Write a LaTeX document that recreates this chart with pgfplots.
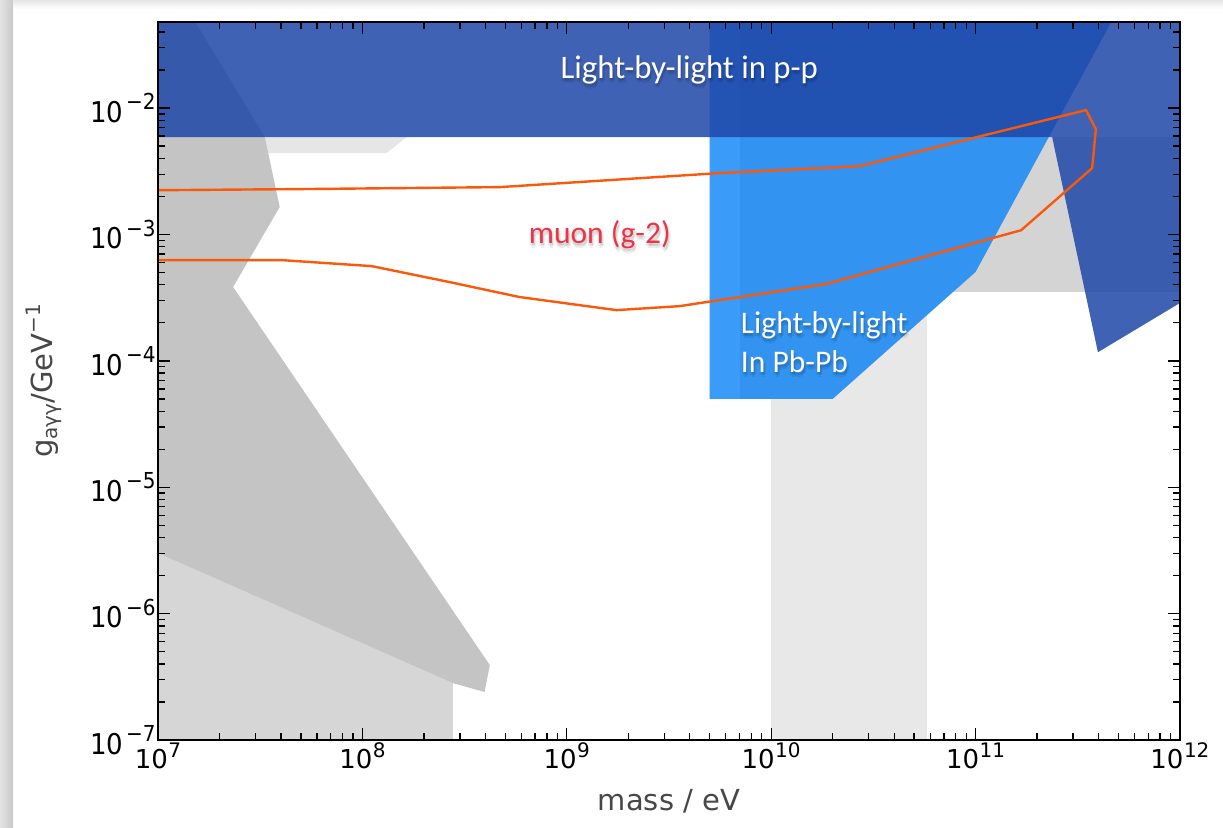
\documentclass[border=0pt]{standalone}
\usepackage{pgfplots}
\pgfplotsset{compat=1.18}
\usepackage{fontspec}
\setmainfont{DejaVu Sans}
\newfontfamily\calfont{Carlito}

\definecolor{ppblue}{RGB}{31,71,168}
\definecolor{pbblue}{RGB}{51,147,240}
\definecolor{pbblue2}{RGB}{58,156,248}
\definecolor{gmed}{RGB}{196,196,196}
\definecolor{glow}{RGB}{214,214,214}
\definecolor{gstrip}{RGB}{230,230,230}
\definecolor{gband}{RGB}{232,232,232}
\definecolor{gright}{RGB}{212,212,212}
\definecolor{muon}{RGB}{250,88,10}
\definecolor{muontext}{RGB}{240,50,70}

\newcommand{\expo}[1]{\pgfmathtruncatemacro{\ee}{round(#1)}\ifnum\ee<0 \kern2bp−\number\numexpr-\ee\relax\else\ee\fi}
\newcommand{\tlab}[1]{{\fontsize{26bp}{26bp}\selectfont 10\kern0.5bp\raisebox{11.5bp}{\fontsize{20bp}{20bp}\selectfont\expo{#1}}}}

\tikzset{lbl/.style={font=\calfont\fontsize{31.5bp}{36bp}\selectfont},
  sh/.style={lbl, text=black, opacity=0.07}}
\newcommand{\shtext}[5][31.5bp]{% size, pos, anchor, color, text
  \node[sh, font=\calfont\fontsize{#1}{36bp}\selectfont, anchor=#3, xshift=1bp, yshift=-2bp] at (#2) {#5};
  \node[sh, font=\calfont\fontsize{#1}{36bp}\selectfont, anchor=#3, xshift=2.5bp, yshift=-3.5bp] at (#2) {#5};
  \node[sh, font=\calfont\fontsize{#1}{36bp}\selectfont, anchor=#3, xshift=-1bp, yshift=-3bp] at (#2) {#5};
  \node[sh, font=\calfont\fontsize{#1}{36bp}\selectfont, anchor=#3, xshift=1bp, yshift=-5bp] at (#2) {#5};
  \node[lbl, font=\calfont\fontsize{#1}{36bp}\selectfont, anchor=#3, text=#4] at (#2) {#5};
}

\begin{document}
\begin{tikzpicture}
\useasboundingbox (0,0) rectangle (1223bp,828bp);
\fill[white] (0,0) rectangle (1223bp,828bp);
\shade[left color=gray!22, right color=gray!42] (0,0) rectangle (13bp,828bp);
\shade[top color=gray!20, bottom color=white] (13bp,819bp) rectangle (1223bp,828bp);
\begin{axis}[
  at={(158bp,88bp)}, anchor=south west,
  scale only axis, width=1022bp, height=718bp,
  xmode=log, ymode=log, log basis x=10, log basis y=10,
  xmin=1e7, xmax=1e12, ymin=1e-7, ymax=0.048,
  axis on top,
  tick align=inside,
  major tick length=12bp, minor tick length=7bp,
  every tick/.append style={line width=1.3bp, black},
  axis line style={line width=1.6bp, black},
  xticklabel={\tlab{\tick}},
  yticklabel={\scalebox{1}[1.1]{\tlab{\tick}}},
  xticklabel style={yshift=1bp},
  yticklabel style={xshift=1bp},
  xlabel={\fontsize{29bp}{29bp}\selectfont mass / eV},
  xlabel style={at={(axis description cs:0.5,-0.0975)}, anchor=base, text=black!72},
  ylabel={\fontsize{29bp}{29bp}\selectfont g\raisebox{-5bp}{\fontsize{20bp}{20bp}\selectfont aγγ}/GeV\raisebox{12bp}{\fontsize{20bp}{20bp}\selectfont −1}},
  ylabel style={at={(axis description cs:-0.112,0.5)}, anchor=center, text=black!72},
]
% light gray lower-left region
\addplot[draw=none, fill=glow] coordinates {(1e7,3.01e-6) (2.77e8,2.82e-7) (2.77e8,1e-7) (1e7,1e-7)} -- cycle;
% light strip below p-p band
\addplot[draw=none, fill=gstrip] coordinates {(1e7,5.9e-3) (1e7,4.4e-3) (2.8e7,4.4e-3) (1.31e8,4.4e-3) (1.65e8,5.9e-3)} -- cycle;
% medium gray left region
\addplot[draw=none, fill=gmed] coordinates {(1e7,0.1) (1.52e7,0.048) (3.33e7,5.9e-3) (3.94e7,1.65e-3) (2.33e7,3.84e-4) (4.20e8,3.92e-7) (3.96e8,2.40e-7) (2.77e8,2.82e-7) (1e7,3.01e-6)} -- cycle;
% vertical light band
\addplot[draw=none, fill=gband] coordinates {(1e10,1e-7) (5.78e10,1e-7) (5.78e10,3.5e-4) (1e10,3.5e-4)} -- cycle;
% right gray region
\addplot[draw=none, fill=gright] coordinates {(5.78e10,3.5e-4) (1e12,3.5e-4) (1e12,5.9e-3) (5.78e10,5.9e-3)} -- cycle;
% Pb-Pb light-by-light
\addplot[draw=none, fill=pbblue] coordinates {(5e9,5e-5) (2e10,5e-5) (1e11,5.05e-4) (5.9e11,0.1) (5e9,0.1)} -- cycle;
\addplot[draw=none, fill=pbblue2] coordinates {(5e9,5e-5) (7e9,5e-5) (7e9,0.1) (5e9,0.1)} -- cycle;
% p-p light-by-light
\addplot[draw=none, fill=ppblue, fill opacity=0.85] coordinates {(1e7,0.1) (1e12,0.1) (1e12,2.87e-4) (3.97e11,1.17e-4) (2.37e11,5.9e-3) (1e7,5.9e-3)} -- cycle;
% muon g-2 contour
\addplot[color=muon, line width=2.4bp, line join=round] coordinates {
 (1e7,2.24e-3) (5.53e7,2.29e-3) (4.70e8,2.37e-3) (5.58e9,3.06e-3) (2.70e10,3.47e-3)
 (3.47e11,9.64e-3) (3.88e11,6.82e-3) (3.72e11,3.35e-3) (1.67e11,1.08e-3)
 (1.86e10,4.06e-4) (3.56e9,2.71e-4) (1.75e9,2.52e-4) (5.87e8,3.20e-4)
 (2.67e8,4.20e-4) (1.11e8,5.62e-4) (4.08e7,6.26e-4) (1e7,6.26e-4)};
% labels
\shtext[32.8bp]{axis cs:3.98e9,0.01725}{base}{white}{Light-by-light in p-p}
\shtext{axis cs:1.45e9,8.55e-4}{base}{muontext}{muon (g-2)}
\shtext{axis cs:6.84e9,1.66e-4}{base west}{white}{Light-by-light}
\shtext{axis cs:6.84e9,8.15e-5}{base west}{white}{In Pb-Pb}
\end{axis}
\end{tikzpicture}
\end{document}
